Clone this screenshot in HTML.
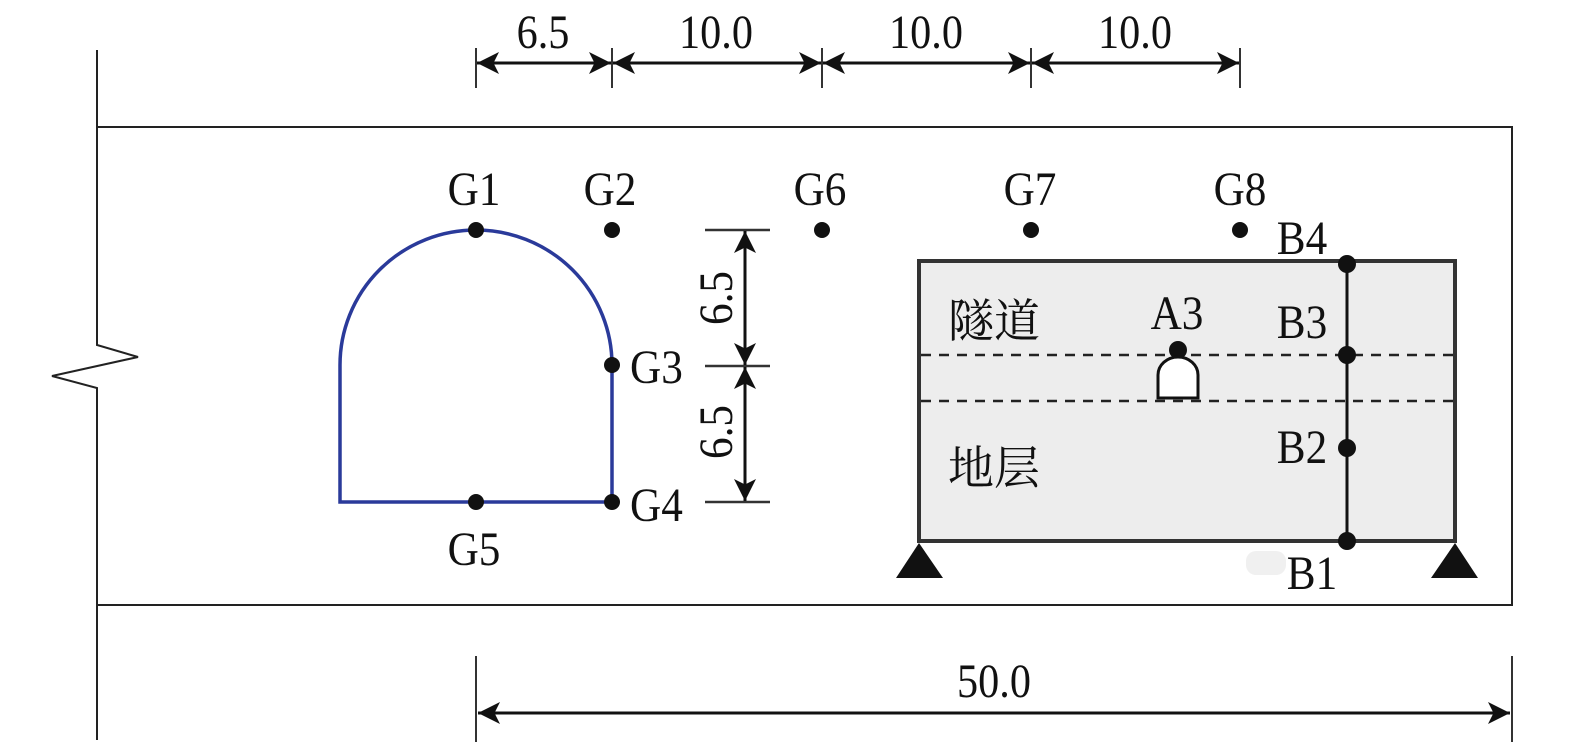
<!DOCTYPE html>
<html><head><meta charset="utf-8"><style>
html,body{margin:0;padding:0;background:#fff;}
svg{display:block;}
text{font-family:"Liberation Serif","Noto Serif CJK SC",serif;font-size:48px;fill:#111;}
.cjk{font-family:"Liberation Serif","Noto Serif CJK SC",serif;font-size:46px;}
</style></head><body>
<svg width="1575" height="750" viewBox="0 0 1575 750" xmlns="http://www.w3.org/2000/svg">
<defs>
<marker id="ah" viewBox="0 0 20 20" refX="20" refY="10" markerWidth="22" markerHeight="22" markerUnits="userSpaceOnUse" orient="auto-start-reverse">
<path d="M0,0 L20,10 L0,20 L5,10 Z" fill="#111"/>
</marker>
</defs>
<polyline points="97,50 97,345 138,357 52,376 97,388 97,740" fill="none" stroke="#222" stroke-width="2"/>
<polyline points="97,127 1512,127 1512,605 97,605" fill="none" stroke="#222" stroke-width="2"/>
<g stroke="#333" stroke-width="2">
<line x1="476" y1="48" x2="476" y2="88"/>
<line x1="612" y1="48" x2="612" y2="88"/>
<line x1="822" y1="48" x2="822" y2="88"/>
<line x1="1031" y1="48" x2="1031" y2="88"/>
<line x1="1240" y1="48" x2="1240" y2="88"/>
</g>
<g stroke="#111" stroke-width="3">
<line x1="477" y1="63" x2="611" y2="63" marker-start="url(#ah)" marker-end="url(#ah)"/>
<line x1="613" y1="63" x2="821" y2="63" marker-start="url(#ah)" marker-end="url(#ah)"/>
<line x1="823" y1="63" x2="1030" y2="63" marker-start="url(#ah)" marker-end="url(#ah)"/>
<line x1="1032" y1="63" x2="1239" y2="63" marker-start="url(#ah)" marker-end="url(#ah)"/>
</g>
<g text-anchor="middle">
<text x="543" y="48" transform="translate(543 0) scale(0.88 1) translate(-543 0)">6.5</text>
<text x="716" y="48" transform="translate(716 0) scale(0.88 1) translate(-716 0)">10.0</text>
<text x="926" y="48" transform="translate(926 0) scale(0.88 1) translate(-926 0)">10.0</text>
<text x="1135" y="48" transform="translate(1135 0) scale(0.88 1) translate(-1135 0)">10.0</text>
</g>
<path d="M340,502 L340,365 A136,135 0 0 1 612,365 L612,502 Z" fill="none" stroke="#2a3a9a" stroke-width="3.5"/>
<g fill="#111">
<circle cx="476" cy="230" r="8"/>
<circle cx="612" cy="230" r="8"/>
<circle cx="822" cy="230" r="8"/>
<circle cx="1031" cy="230" r="8"/>
<circle cx="1240" cy="230" r="8"/>
<circle cx="612" cy="365" r="8"/>
<circle cx="612" cy="502" r="8"/>
<circle cx="476" cy="502" r="8"/>
</g>
<g text-anchor="middle">
<text x="474" y="205" transform="translate(474 0) scale(0.9 1) translate(-474 0)">G1</text>
<text x="610" y="205" transform="translate(610 0) scale(0.9 1) translate(-610 0)">G2</text>
<text x="820" y="205" transform="translate(820 0) scale(0.9 1) translate(-820 0)">G6</text>
<text x="1030" y="205" transform="translate(1030 0) scale(0.9 1) translate(-1030 0)">G7</text>
<text x="1240" y="205" transform="translate(1240 0) scale(0.9 1) translate(-1240 0)">G8</text>
<text x="474" y="565" transform="translate(474 0) scale(0.9 1) translate(-474 0)">G5</text>
</g>
<text x="630" y="383" transform="translate(630 0) scale(0.9 1) translate(-630 0)">G3</text>
<text x="630" y="521" transform="translate(630 0) scale(0.9 1) translate(-630 0)">G4</text>
<g stroke="#333" stroke-width="2.5">
<line x1="705" y1="230" x2="770" y2="230"/>
<line x1="705" y1="366" x2="770" y2="366"/>
<line x1="705" y1="502" x2="770" y2="502"/>
</g>
<g stroke="#111" stroke-width="3">
<line x1="745" y1="231" x2="745" y2="365" marker-start="url(#ah)" marker-end="url(#ah)"/>
<line x1="745" y1="367" x2="745" y2="501" marker-start="url(#ah)" marker-end="url(#ah)"/>
</g>
<text x="0" y="0" text-anchor="middle" transform="translate(732 298) rotate(-90) scale(0.9 1)">6.5</text>
<text x="0" y="0" text-anchor="middle" transform="translate(732 432) rotate(-90) scale(0.9 1)">6.5</text>
<rect x="919" y="261" width="536" height="280" fill="#ededed" stroke="#333" stroke-width="4"/>
<g stroke="#222" stroke-width="2.5" stroke-dasharray="10,8">
<line x1="921" y1="355" x2="1453" y2="355"/>
<line x1="921" y1="401" x2="1453" y2="401"/>
</g>
<line x1="1347" y1="263" x2="1347" y2="541" stroke="#111" stroke-width="3"/>
<g fill="#111">
<circle cx="1347" cy="264" r="9"/>
<circle cx="1347" cy="355" r="9"/>
<circle cx="1347" cy="448" r="9"/>
<circle cx="1347" cy="541" r="9"/>
<circle cx="1178" cy="350" r="9"/>
</g>
<path d="M1158,398 L1158,375 A20,18 0 0 1 1198,375 L1198,398 Z" fill="#fff" stroke="#111" stroke-width="3"/>
<text class="cjk" x="948" y="337">隧道</text>
<text class="cjk" x="948" y="484">地层</text>
<g text-anchor="middle">
<text x="1177" y="329" transform="translate(1177 0) scale(0.9 1) translate(-1177 0)">A3</text>
<text x="1302" y="254" transform="translate(1302 0) scale(0.9 1) translate(-1302 0)">B4</text>
<text x="1302" y="338" transform="translate(1302 0) scale(0.9 1) translate(-1302 0)">B3</text>
<text x="1302" y="463" transform="translate(1302 0) scale(0.9 1) translate(-1302 0)">B2</text>
<text x="1312" y="589" transform="translate(1312 0) scale(0.9 1) translate(-1312 0)">B1</text>
</g>
<rect x="1246" y="551" width="40" height="24" rx="10" fill="#f0f0f0"/>
<polygon points="919,543 896,578 943,578" fill="#111"/>
<polygon points="1455,543 1431,578 1478,578" fill="#111"/>
<g stroke="#333" stroke-width="2">
<line x1="476" y1="656" x2="476" y2="742"/>
<line x1="1512" y1="656" x2="1512" y2="742"/>
</g>
<line x1="478" y1="713" x2="1510" y2="713" stroke="#111" stroke-width="3" marker-start="url(#ah)" marker-end="url(#ah)"/>
<text x="994" y="697" text-anchor="middle" transform="translate(994 0) scale(0.88 1) translate(-994 0)">50.0</text>
</svg>
</body></html>
